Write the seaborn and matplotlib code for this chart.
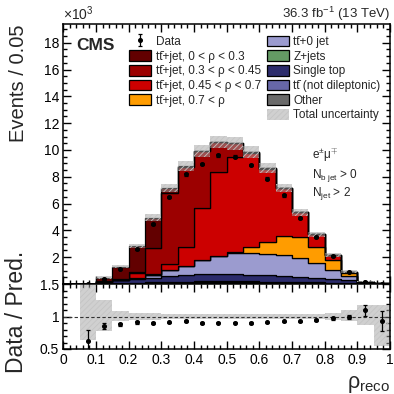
import numpy as np
import pandas as pd
import matplotlib
matplotlib.use("Agg")
import matplotlib.pyplot as plt
from matplotlib.patches import Patch
from matplotlib.ticker import MultipleLocator, FixedLocator, FuncFormatter
import seaborn as sns

# ---------------------------------------------------------------------------
# Binning in reconstructed rho and yields per bin (units of 10^3 events)
# ---------------------------------------------------------------------------
bin_edges = [0.00, 0.05, 0.10, 0.15, 0.20, 0.25, 0.30, 0.35, 0.40, 0.45, 0.50,
             0.55, 0.60, 0.65, 0.70, 0.75, 0.80, 0.85, 0.90, 0.95, 1.00]

ttjet_rho_0_030 = [0, 0.010, 0.275, 0.925, 1.99, 2.24, 0.35, 0.10, 0.03, 0.01,
                   0, 0, 0, 0, 0, 0, 0, 0, 0, 0]
ttjet_rho_030_045 = [0, 0, 0, 0, 0.05, 1.98, 5.33, 5.91, 4.27, 2.21,
                     1.00, 0.10, 0.05, 0.02, 0, 0, 0, 0, 0, 0]
ttjet_rho_045_070 = [0, 0, 0.010, 0.030, 0.33, 0.05, 0.43, 1.44, 3.85, 6.26,
                     7.09, 7.01, 5.44, 3.58, 1.87, 0.91, 0.36, 0.12, 0.010, 0.005]
ttjet_rho_070_100 = [0, 0, 0.005, 0.005, 0.01, 0.01, 0.01, 0.01, 0.01, 0.03,
                     0.12, 0.40, 0.95, 1.35, 1.53, 1.23, 0.73, 0.22, 0.020, 0.005]
tt_0jet = [0, 0.004, 0.03, 0.05, 0.07, 0.20, 0.44, 0.66, 1.07, 1.37,
           1.57, 1.64, 1.55, 1.62, 1.45, 1.12, 0.68, 0.28, 0.04, 0.01]
single_top = [0, 0.004, 0.11, 0.21, 0.29, 0.34, 0.45, 0.51, 0.53, 0.53,
              0.53, 0.51, 0.49, 0.43, 0.37, 0.32, 0.29, 0.23, 0.065, 0.013]
z_jets = [0, 0.001, 0.01, 0.01, 0.02, 0.02, 0.02, 0.03, 0.03, 0.03,
          0.03, 0.03, 0.03, 0.02, 0.02, 0.02, 0.01, 0.01, 0.005, 0.002]
tt_nondilep = [0, 0.003, 0.02, 0.04, 0.06, 0.07, 0.08, 0.09, 0.10, 0.10,
               0.10, 0.10, 0.09, 0.08, 0.07, 0.06, 0.05, 0.04, 0.02, 0.005]
other = [0, 0.002, 0.01, 0.02, 0.03, 0.04, 0.05, 0.05, 0.06, 0.06,
         0.06, 0.06, 0.05, 0.05, 0.04, 0.04, 0.03, 0.02, 0.01, 0.0]

data_obs = [0, 0.015, 0.400, 1.135, 2.59, 4.455, 6.51, 8.18, 8.96, 9.59,
            9.50, 8.87, 7.87, 6.61, 4.95, 3.50, 2.085, 0.91, 0.186, 0.037]

# relative total (stat + syst) uncertainty of the prediction
unc_down = [0, 0.36, 0.22, 0.07, 0.055, 0.055, 0.045, 0.045, 0.045, 0.045,
            0.045, 0.045, 0.045, 0.045, 0.045, 0.045, 0.055, 0.075, 0.125, 0.45]
unc_up = [0, 0.48, 0.25, 0.09, 0.055, 0.055, 0.045, 0.045, 0.045, 0.045,
          0.045, 0.045, 0.045, 0.045, 0.045, 0.045, 0.06, 0.10, 0.18, 0.18]

# ---------------------------------------------------------------------------
# Style
# ---------------------------------------------------------------------------
sns.set_theme(style="ticks")
plt.rcParams.update({
    "font.family": ["Liberation Sans", "DejaVu Sans"],
    "mathtext.fontset": "custom",
    "mathtext.rm": "Liberation Sans",
    "mathtext.it": "Liberation Sans:italic",
    "mathtext.bf": "Liberation Sans:bold",
    "hatch.linewidth": 0.6,
    "axes.linewidth": 1.1,
    "axes.edgecolor": "black",
    "xtick.color": "black",
    "ytick.color": "black",
})

TT = "tt\u0304"
processes = [
    ("ttj1", TT + "+jet, 0 < ρ < 0.3", ttjet_rho_0_030, "#620000"),
    ("ttj2", TT + "+jet, 0.3 < ρ < 0.45", ttjet_rho_030_045, "#9c0000"),
    ("ttj3", TT + "+jet, 0.45 < ρ < 0.7", ttjet_rho_045_070, "#cc0000"),
    ("ttj4", TT + "+jet, 0.7 < ρ", ttjet_rho_070_100, "#ff9c00"),
    ("tt0", TT + "+0 jet", tt_0jet, "#9b9bcf"),
    ("st", "Single top", single_top, "#2c2c6c"),
    ("zj", "Z+jets", z_jets, "#649a64"),
    ("ttnd", TT + " (not dileptonic)", tt_nondilep, "#6767a7"),
    ("oth", "Other", other, "#6a6a6a"),
]

edges = np.array(bin_edges)
centers = 0.5 * (edges[:-1] + edges[1:])
width = np.diff(edges)

df = pd.DataFrame({
    "rho": np.tile(centers, len(processes)),
    "yield": np.concatenate([p[2] for p in processes]).astype(float),
    "process": np.repeat([p[0] for p in processes], len(centers)),
})
palette = {p[0]: p[3] for p in processes}

total = np.sum([np.array(p[2]) for p in processes], axis=0)
data = np.array(data_obs)
data_err = np.sqrt(data * 1000.0) / 1000.0
has = total > 0
band_lo = total * (1 - np.array(unc_down))
band_hi = total * (1 + np.array(unc_up))

# ---------------------------------------------------------------------------
# Figure
# ---------------------------------------------------------------------------
W = H = 394
fig = plt.figure(figsize=(W / 100, H / 100), dpi=100)
ax = fig.add_axes([63.3 / W, 110 / H, 326.7 / W, 260 / H])
rax = fig.add_axes([63.3 / W, 45 / H, 326.7 / W, 65 / H], sharex=ax)

sns.histplot(data=df, x="rho", weights="yield", hue="process",
             hue_order=[p[0] for p in processes], palette=palette,
             bins=list(bin_edges), multiple="stack", element="step",
             alpha=1, edgecolor="black", linewidth=0.9, legend=False, ax=ax)

band_kw = dict(facecolor=(0.64, 0.64, 0.64, 0.5), edgecolor="#c4c4c4",
               hatch="//////", linewidth=0)
ax.bar(centers[has], (band_hi - band_lo)[has], bottom=band_lo[has],
       width=width[has], align="center", **band_kw)

data_cont = ax.errorbar(centers[has], data[has], yerr=data_err[has], fmt="o",
                        ms=2.6, color="black", elinewidth=0.9, capsize=1.2,
                        capthick=0.9, zorder=5)

ax.set_xlim(0, 1)
ax.set_ylim(0, 19.4)
ax.set_xlabel("")
ax.set_ylabel("Events / 0.05", fontsize=14.5, loc="top")
ax.yaxis.set_label_coords(-0.108, 1.0)
ax.yaxis.set_major_locator(FixedLocator(np.arange(2, 19, 2)))
ax.yaxis.set_minor_locator(MultipleLocator(0.5))
ax.xaxis.set_major_locator(MultipleLocator(0.1))
ax.xaxis.set_minor_locator(MultipleLocator(0.02))
ax.tick_params(axis="x", labelbottom=False)

# ratio panel
ratio = np.where(has, data / np.where(has, total, 1), np.nan)
ratio_err = np.where(has, data_err / np.where(has, total, 1), np.nan)
rlo = 1 - np.array(unc_down)
rhi = 1 + np.array(unc_up)
rax.bar(centers[has], (rhi - rlo)[has], bottom=rlo[has], width=width[has],
        align="center", **band_kw)
rax.axhline(1.0, color="#333333", lw=0.8, ls=(0, (3, 2)))
rax.errorbar(centers[has], ratio[has], yerr=ratio_err[has], fmt="o", ms=2.6,
             color="black", elinewidth=0.9, capsize=1.2, capthick=0.9,
             zorder=5)
rax.set_ylim(0.5, 1.5)
rax.yaxis.set_major_locator(FixedLocator([0.5, 1.0, 1.5]))
rax.yaxis.set_major_formatter(FuncFormatter(lambda v, _: f"{v:g}"))
rax.yaxis.set_minor_locator(MultipleLocator(0.1))
rax.xaxis.set_major_formatter(FuncFormatter(lambda v, _: f"{v:g}"))
rax.set_ylabel("Data / Pred.", fontsize=16.5)
rax.yaxis.set_label_coords(-0.108, 0.57)
rax.set_xlabel(r"ρ$_{\mathrm{reco}}$", fontsize=15.5, loc="right")
rax.xaxis.set_label_coords(1.0, -0.38)

for a in (ax, rax):
    a.tick_params(which="both", direction="in", top=True, right=True,
                  width=1.0, labelsize=10, pad=3)
    a.tick_params(which="major", length=6)
    a.tick_params(which="minor", length=3.2)
    for s in a.spines.values():
        s.set_visible(True)
        s.set_linewidth(1.1)

# legends
def box(color):
    return Patch(facecolor=color, edgecolor="black", linewidth=0.9)

left_h = [data_cont] + [box(p[3]) for p in processes[:4]]
left_l = ["Data"] + [p[1] for p in processes[:4]]
right_order = [processes[4], processes[6], processes[5], processes[7], processes[8]]
right_h = [box(p[3]) for p in right_order] + [Patch(**band_kw)]
right_l = [p[1] for p in right_order] + ["Total uncertainty"]

leg_kw = dict(fontsize=8.5, frameon=False, handlelength=1.9, handleheight=1.0,
              handletextpad=0.35, labelspacing=0.2, borderpad=0,
              borderaxespad=0, loc="upper left")
leg1 = ax.legend(left_h, left_l, bbox_to_anchor=(0.201, 0.955), **leg_kw)
ax.add_artist(leg1)
ax.legend(right_h, right_l, bbox_to_anchor=(0.623, 0.955), **leg_kw)

# labels
def px(x, y):
    return x / W, 1 - y / H

fig.text(*px(76, 50), "CMS", fontsize=12.5, fontweight="bold", va="baseline")
fig.text(*px(63, 20), r"$\times$10$^{3}$", fontsize=10, va="baseline")
fig.text(*px(390, 18), r"36.3 fb$^{-1}$ (13 TeV)", fontsize=9.5,
         ha="right", va="baseline")
fig.text(*px(312, 159), r"e$^{\pm}$μ$^{\mp}$", fontsize=8.5, va="baseline")
fig.text(*px(312, 178), r"N$_{\mathrm{b\ jet}}$ > 0", fontsize=8.5, va="baseline")
fig.text(*px(312, 196), r"N$_{\mathrm{jet}}$ > 2", fontsize=8.5, va="baseline")

fig.savefig("out.png", dpi=100)
